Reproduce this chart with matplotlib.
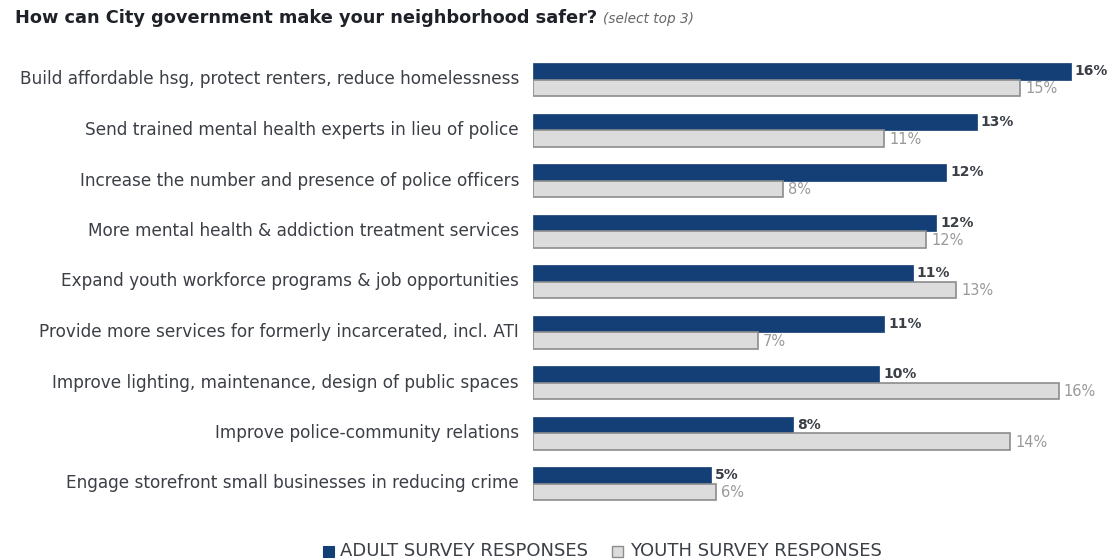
import matplotlib
matplotlib.use("Agg")
import matplotlib.pyplot as plt
import numpy as np
from matplotlib.patches import Rectangle

categories = [
    "Build affordable hsg, protect renters, reduce homelessness",
    "Send trained mental health experts in lieu of police",
    "Increase the number and presence of police officers",
    "More mental health & addiction treatment services",
    "Expand youth workforce programs & job opportunities",
    "Provide more services for formerly incarcerated, incl. ATI",
    "Improve lighting, maintenance, design of public spaces",
    "Improve police-community relations",
    "Engage storefront small businesses in reducing crime",
]
adult_values = [16.0, 13.2, 12.3, 12.0, 11.3, 10.45, 10.3, 7.75, 5.3]
youth_values = [14.5, 10.45, 7.45, 11.7, 12.6, 6.7, 15.65, 14.2, 5.45]
adult_labels = ["16%", "13%", "12%", "12%", "11%", "11%", "10%", "8%", "5%"]
youth_labels = ["15%", "11%", "8%", "12%", "13%", "7%", "16%", "14%", "6%"]
legend_labels = ["ADULT SURVEY RESPONSES", "YOUTH SURVEY RESPONSES"]

NAVY = "#133f76"
GRAYFILL = "#dcdcdc"
GRAYEDGE = "#8c8c8c"
TEXT = "#3b3f46"

plt.rcParams['font.family'] = ['DejaVu Sans']

W, H = 1112, 559
fig = plt.figure(figsize=(W / 100, H / 100), dpi=100)
ax_left = 533 / W
ax = fig.add_axes([ax_left, 0, 1 - ax_left, 1])
px_per_unit = 33.6
ax.set_xlim(0, (W - 533) / px_per_unit)
y0 = 79.5
step = 50.5
ax.set_ylim(H, 0)
ax.axis("off")

bh = 16.5
n = len(categories)
centers = y0 + step * np.arange(n)
ax.barh(centers - bh / 2, adult_values, height=bh, color=NAVY, edgecolor="#2a4f80", linewidth=0.6)
ax.barh(centers + bh / 2, youth_values, height=bh, color=GRAYFILL, edgecolor=GRAYEDGE, linewidth=1.2)

for i in range(n):
    ax.text(adult_values[i] + 0.12, centers[i] - bh / 2, adult_labels[i], ha="left", va="center",
            fontsize=10, fontweight="bold", color=TEXT)
    ax.text(youth_values[i] + 0.15, centers[i] + bh / 2 + 1, youth_labels[i], ha="left", va="center",
            fontsize=10.5, color="#9a9a9a")
    fig.text(519 / W, 1 - centers[i] / H, categories[i], ha="right", va="center",
             fontsize=12.15, color=TEXT)

# title
t = fig.text(15 / W, 1 - 18 / H, "How can City government make your neighborhood safer?",
             ha="left", va="center", fontsize=12.8, fontweight="bold", color="#1e2228")
fig.canvas.draw()
bb = t.get_window_extent()
fig.text((bb.x1 + 6) / W, 1 - 18.5 / H, "(select top 3)", ha="left", va="center",
         fontsize=9.8, style="italic", color="#666666")

# legend
ly = 551
fig.patches.append(Rectangle((323 / W, 1 - (ly + 5.5) / H), 11 / W, 11 / H, transform=fig.transFigure,
                             facecolor=NAVY, edgecolor=NAVY, linewidth=0.8))
fig.text(340 / W, 1 - ly / H, legend_labels[0], ha="left", va="center", fontsize=13, color=TEXT)
fig.patches.append(Rectangle((612 / W, 1 - (ly + 5.5) / H), 11 / W, 11 / H, transform=fig.transFigure,
                             facecolor=GRAYFILL, edgecolor=GRAYEDGE, linewidth=1.0))
fig.text(630 / W, 1 - ly / H, legend_labels[1], ha="left", va="center", fontsize=13, color=TEXT)

fig.savefig("out.png", dpi=100)
